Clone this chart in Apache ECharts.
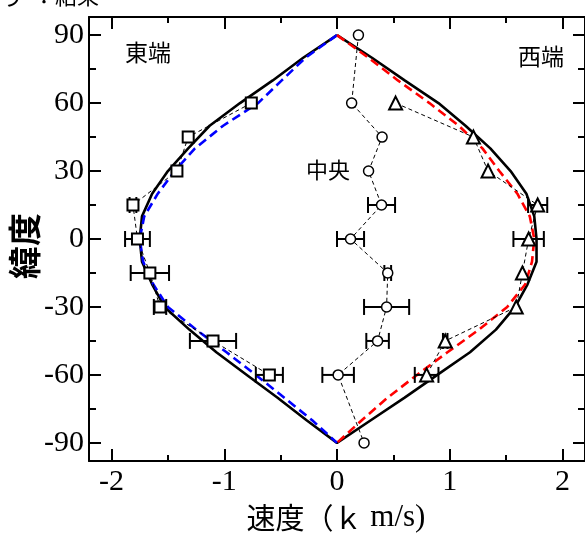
<!DOCTYPE html>
<html>
<head>
<meta charset="utf-8">
<script src="https://cdn.jsdelivr.net/npm/echarts@6/dist/echarts.min.js"></script>
<style>html,body{margin:0;padding:0;background:#fff;}#c{width:585px;height:534px;}</style>
</head>
<body>
<div id="c"></div>
<script>
// ---- data ----
var curveLat = [90,80,70,60,50,40,30,20,10,0,-10,-20,-30,-40,-50,-60,-70,-80,-90];
var blackEast = [0,-0.30,-0.57,-0.86,-1.13,-1.32,-1.50,-1.64,-1.73,-1.75,-1.73,-1.64,-1.53,-1.31,-1.07,-0.80,-0.53,-0.27,0];
var blackWest = [0,0.31,0.60,0.90,1.14,1.36,1.54,1.68,1.75,1.77,1.77,1.69,1.58,1.41,1.18,0.89,0.60,0.30,0];
var blueEast = [0,-0.28,-0.49,-0.70,-1.01,-1.26,-1.44,-1.59,-1.71,-1.75,-1.72,-1.63,-1.50,-1.25,-0.98,-0.72,-0.47,-0.22,0];
var redWest = [0,0.28,0.54,0.82,1.08,1.29,1.44,1.60,1.71,1.75,1.73,1.67,1.51,1.26,0.98,0.71,0.45,0.22,0];

var eastLat = [60,45,30,15,0,-15,-30,-45,-60];
var eastV = [-0.76,-1.32,-1.42,-1.81,-1.77,-1.66,-1.57,-1.10,-0.60];
var eastErr = [0,0,0,0.03,0.11,0.17,0.055,0.205,0.12];

var centerLat = [90,60,45,30,15,0,-15,-30,-45,-60,-90];
var centerV = [0.19,0.13,0.40,0.28,0.395,0.12,0.45,0.44,0.36,0.01,0.24];
var centerErr = [0,0,0,0,0.12,0.12,0.03,0.20,0.10,0.14,0];

var westLat = [60,45,30,15,0,-15,-30,-45,-60];
var westV = [0.52,1.21,1.34,1.78,1.70,1.645,1.59,0.96,0.795];
var westErr = [0,0,0,0.085,0.135,0,0,0.02,0.105];

var xMajor = [-2,-1,0,1,2];
var xMinor = [-1.5,-0.5,0.5,1.5];
var yMajor = [-90,-60,-30,0,30,60,90];
var yMinor = [-75,-45,-15,15,45,75];

// ---- build ----
function pairs(xs, ys){ return xs.map(function(v,i){ return [v, ys[i]]; }); }
var blackLoop = pairs(blackEast, curveLat).concat(pairs(blackWest, curveLat).reverse());
function errData(xs, ys, es){ var out=[]; xs.forEach(function(v,i){ if(es[i]>0) out.push([v, ys[i], es[i]]); }); return out; }
var allErr = errData(eastV,eastLat,eastErr).concat(errData(centerV,centerLat,centerErr)).concat(errData(westV,westLat,westErr));

var serif = 'Liberation Serif';
var cjk = 'Noto Sans CJK JP';
var blk = '#000';

function xAx(pos, ticks, len, showLine, showLabel){
  return {
    type:'value', position:pos, min:-2.2, max:2.2,
    axisLine:{show:showLine, onZero:false, lineStyle:{color:blk, width:2}},
    axisTick:{show:true, inside:true, length:len, customValues:ticks, lineStyle:{color:blk,width:2}},
    axisLabel:{show:showLabel, customValues:ticks, color:blk, fontFamily:serif, fontSize:30, margin:6},
    splitLine:{show:false}
  };
}
function yAx(pos, ticks, len, showLine, showLabel){
  return {
    type:'value', position:pos, min:-98, max:98,
    axisLine:{show:showLine, onZero:false, lineStyle:{color:blk, width:2}},
    axisTick:{show:true, inside:true, length:len, customValues:ticks, lineStyle:{color:blk,width:2}},
    axisLabel:{show:showLabel, customValues:ticks, color:blk, fontFamily:serif, fontSize:30, margin:5},
    splitLine:{show:false}
  };
}

var chart = echarts.init(document.getElementById('c'), null, {renderer:'canvas'});
var markerLine = {color:blk, width:1, type:[4,3]};
chart.setOption({
  animation:false,
  backgroundColor:'#fff',
  grid:{left:89, right:-2, top:17, bottom:73, containLabel:false},
  xAxis:[xAx('bottom', xMajor, 12, true, true), xAx('bottom', xMinor, 6, false, false),
         xAx('top', xMajor, 12, true, false), xAx('top', xMinor, 6, false, false)],
  yAxis:[yAx('left', yMajor, 12, true, true), yAx('left', yMinor, 7, false, false),
         yAx('right', yMajor, 12, true, false), yAx('right', yMinor, 7, false, false)],
  graphic:[
    {type:'text', left:0, top:-16, style:{text:'り', fontSize:24, fontFamily:cjk, fill:blk}},
    {type:'text', left:33, top:-15, style:{text:'：結果', fontSize:22, fontFamily:cjk, fill:blk}},
    {type:'text', x:24, y:246, rotation:Math.PI/2, style:{text:'緯度', fontSize:33, fontWeight:'bold', fontFamily:cjk, fill:blk, align:'center', verticalAlign:'middle'}},
    {type:'text', x:336, y:518, style:{
      text:'{a|速度（}{b|ｋ}{c| m/s)}', align:'center', verticalAlign:'middle',
      rich:{
        a:{fontSize:29, fontFamily:cjk, fill:blk},
        b:{fontSize:29, fontFamily:cjk, fill:blk},
        c:{fontSize:31, fontFamily:serif, fill:blk}
      }}},
    {type:'text', x:148, y:52, style:{text:'東端', fontSize:23, fontFamily:cjk, fill:blk, align:'center', verticalAlign:'middle'}},
    {type:'text', x:541, y:56, style:{text:'西端', fontSize:23, fontFamily:cjk, fill:blk, align:'center', verticalAlign:'middle'}},
    {type:'text', x:328, y:170, style:{text:'中央', fontSize:22, fontFamily:cjk, fill:blk, align:'center', verticalAlign:'middle'}}
  ],
  series:[
    {type:'line', data:blackLoop, symbol:'none', lineStyle:{color:blk, width:2.6}, z:2},
    {type:'line', data:pairs(blueEast, curveLat), symbol:'none', lineStyle:{color:'#0000ff', width:2.6, type:[9,5]}, z:3},
    {type:'line', data:pairs(redWest, curveLat), symbol:'none', lineStyle:{color:'#ff0000', width:2.6, type:[9,5]}, z:3},
    {type:'custom', data:allErr, z:4,
      renderItem:function(params, api){
        var x=api.value(0), y=api.value(1), e=api.value(2);
        var a=api.coord([x-e,y]), b=api.coord([x+e,y]); var h=8;
        var st={stroke:blk, lineWidth:2};
        return {type:'group', children:[
          {type:'line', shape:{x1:a[0],y1:a[1],x2:b[0],y2:b[1]}, style:st},
          {type:'line', shape:{x1:a[0],y1:a[1]-h,x2:a[0],y2:a[1]+h}, style:st},
          {type:'line', shape:{x1:b[0],y1:b[1]-h,x2:b[0],y2:b[1]+h}, style:st}
        ]};
      }},
    {type:'line', data:pairs(eastV, eastLat), symbol:'rect', symbolSize:11, lineStyle:markerLine,
      itemStyle:{color:'#fff', borderColor:blk, borderWidth:2}, z:5},
    {type:'line', data:pairs(centerV, centerLat), symbol:'circle', symbolSize:10, lineStyle:markerLine,
      itemStyle:{color:'#fff', borderColor:blk, borderWidth:1.5}, z:5},
    {type:'line', data:pairs(westV, westLat), symbol:'triangle', symbolSize:13, lineStyle:markerLine,
      itemStyle:{color:'#fff', borderColor:blk, borderWidth:2}, z:5}
  ]
});
</script>
</body>
</html>
